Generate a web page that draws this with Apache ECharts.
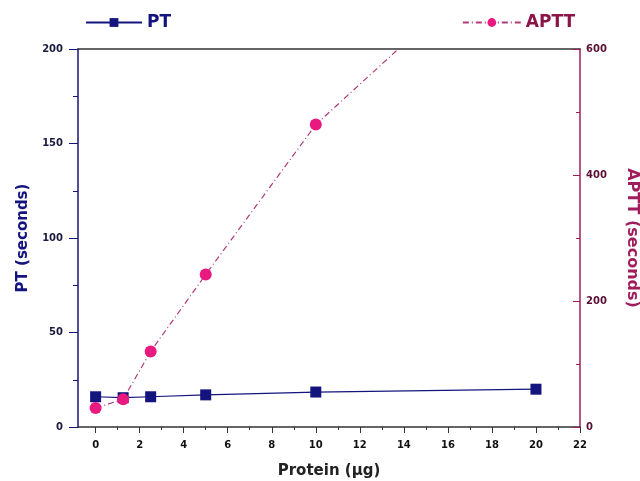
<!DOCTYPE html>
<html>
<head>
<meta charset="utf-8">
<script src="https://cdn.jsdelivr.net/npm/echarts@6/dist/echarts.min.js"></script>
<style>
  html, body { margin: 0; padding: 0; background: #fff; }
  #chart { width: 640px; height: 481px; }
</style>
</head>
<body>
<div id="chart"></div>
<script>
// data
var protein = [0, 1.25, 2.5, 5, 10, 20];
var ptValues = [16, 15.5, 16, 17, 18.5, 20];
var apttValues = [30, 44, 120, 242, 480, 800];

// x axis tick positions (the y axis sits a bit left of x = 0)
var xMajorTicks = [0, 2, 4, 6, 8, 10, 12, 14, 16, 18, 20, 22];
var xMinorTicks = [1, 3, 5, 7, 9, 11, 13, 15, 17, 19, 21];

var navy = '#14147e';
var pink = '#e8197f';
var maroon = '#a01d5c';
var font = 'DejaVu Sans';

var myChart = echarts.init(document.getElementById('chart'));

var labelFont = { fontFamily: font, fontWeight: 'bold', fontSize: 10 };

var option = {
    animation: false,
    grid: { left: 78, right: 60, top: 49, bottom: 54, outerBoundsMode: 'none' },
    legend: [{
        data: ['PT'],
        left: 80, top: 9,
        itemWidth: 56, itemHeight: 11, itemGap: 6,
        textStyle: { color: navy, fontSize: 17, fontWeight: 'bold', fontFamily: font }
    }, {
        data: ['APTT'],
        right: 60, top: 9,
        itemWidth: 58, itemHeight: 11,
        textStyle: { color: '#8c1548', fontSize: 17, fontWeight: 'bold', fontFamily: font }
    }],
    xAxis: [{
        type: 'value',
        position: 'bottom',
        min: -0.8, max: 22,
        name: 'Protein (µg)',
        nameLocation: 'middle',
        nameGap: 37,
        nameTextStyle: { color: '#222', fontSize: 15, fontWeight: 'bold', fontFamily: font },
        axisLine: { onZero: false, lineStyle: { color: '#333', width: 1.5 } },
        axisTick: { show: true, length: 6, customValues: xMajorTicks, lineStyle: { color: '#333' } },
        axisLabel: Object.assign({ color: '#111', margin: 13, customValues: xMajorTicks }, labelFont),
        splitLine: { show: false }
    }, {
        type: 'value',
        position: 'bottom',
        min: -0.8, max: 22,
        axisLine: { show: false, onZero: false },
        axisTick: { show: true, length: 3, customValues: xMinorTicks, lineStyle: { color: '#333' } },
        axisLabel: { show: false },
        splitLine: { show: false }
    }, {
        type: 'value',
        position: 'top',
        min: -0.8, max: 22,
        axisLine: { show: true, onZero: false, lineStyle: { color: '#333', width: 1.5 } },
        axisTick: { show: false },
        axisLabel: { show: false },
        splitLine: { show: false }
    }],
    yAxis: [{
        type: 'value',
        min: 0, max: 200, interval: 50,
        position: 'left',
        name: 'PT (seconds)',
        nameLocation: 'middle',
        nameGap: 47,
        nameTextStyle: { color: navy, fontSize: 15, fontWeight: 'bold', fontFamily: font },
        axisLine: { show: true, onZero: false, lineStyle: { color: navy, width: 1.5 } },
        axisTick: { show: true, length: 9, lineStyle: { color: navy } },
        minorTick: { show: true, splitNumber: 2, length: 5, lineStyle: { color: navy } },
        axisLabel: Object.assign({ color: '#1a1a40', margin: 15 }, labelFont),
        splitLine: { show: false }
    }, {
        type: 'value',
        min: 0, max: 600, interval: 200,
        position: 'right',
        name: 'APTT (seconds)',
        nameLocation: 'middle',
        nameGap: 44,
        nameRotate: -90,
        nameTextStyle: { color: maroon, fontSize: 16, fontWeight: 'bold', fontFamily: font },
        axisLine: { show: true, onZero: false, lineStyle: { color: maroon, width: 1.5 } },
        axisTick: { show: true, inside: true, length: 7, lineStyle: { color: maroon } },
        minorTick: { show: true, splitNumber: 2, length: 4, lineStyle: { color: maroon } },
        axisLabel: Object.assign({ color: '#5a1035', margin: 6 }, labelFont),
        splitLine: { show: false }
    }],
    series: [{
        name: 'PT',
        type: 'line',
        xAxisIndex: 0,
        yAxisIndex: 0,
        data: protein.map(function (x, i) { return [x, ptValues[i]]; }),
        symbol: 'rect',
        symbolSize: 11,
        itemStyle: { color: navy },
        lineStyle: { color: navy, width: 1.2 }
    }, {
        name: 'APTT',
        type: 'line',
        xAxisIndex: 0,
        yAxisIndex: 1,
        clip: true,
        data: protein.map(function (x, i) { return [x, apttValues[i]]; }),
        symbol: 'circle',
        symbolSize: 12,
        itemStyle: { color: pink },
        lineStyle: { color: '#b03a78', width: 1.2, type: [6, 3, 1, 3] }
    }]
};

myChart.setOption(option);
</script>
</body>
</html>
